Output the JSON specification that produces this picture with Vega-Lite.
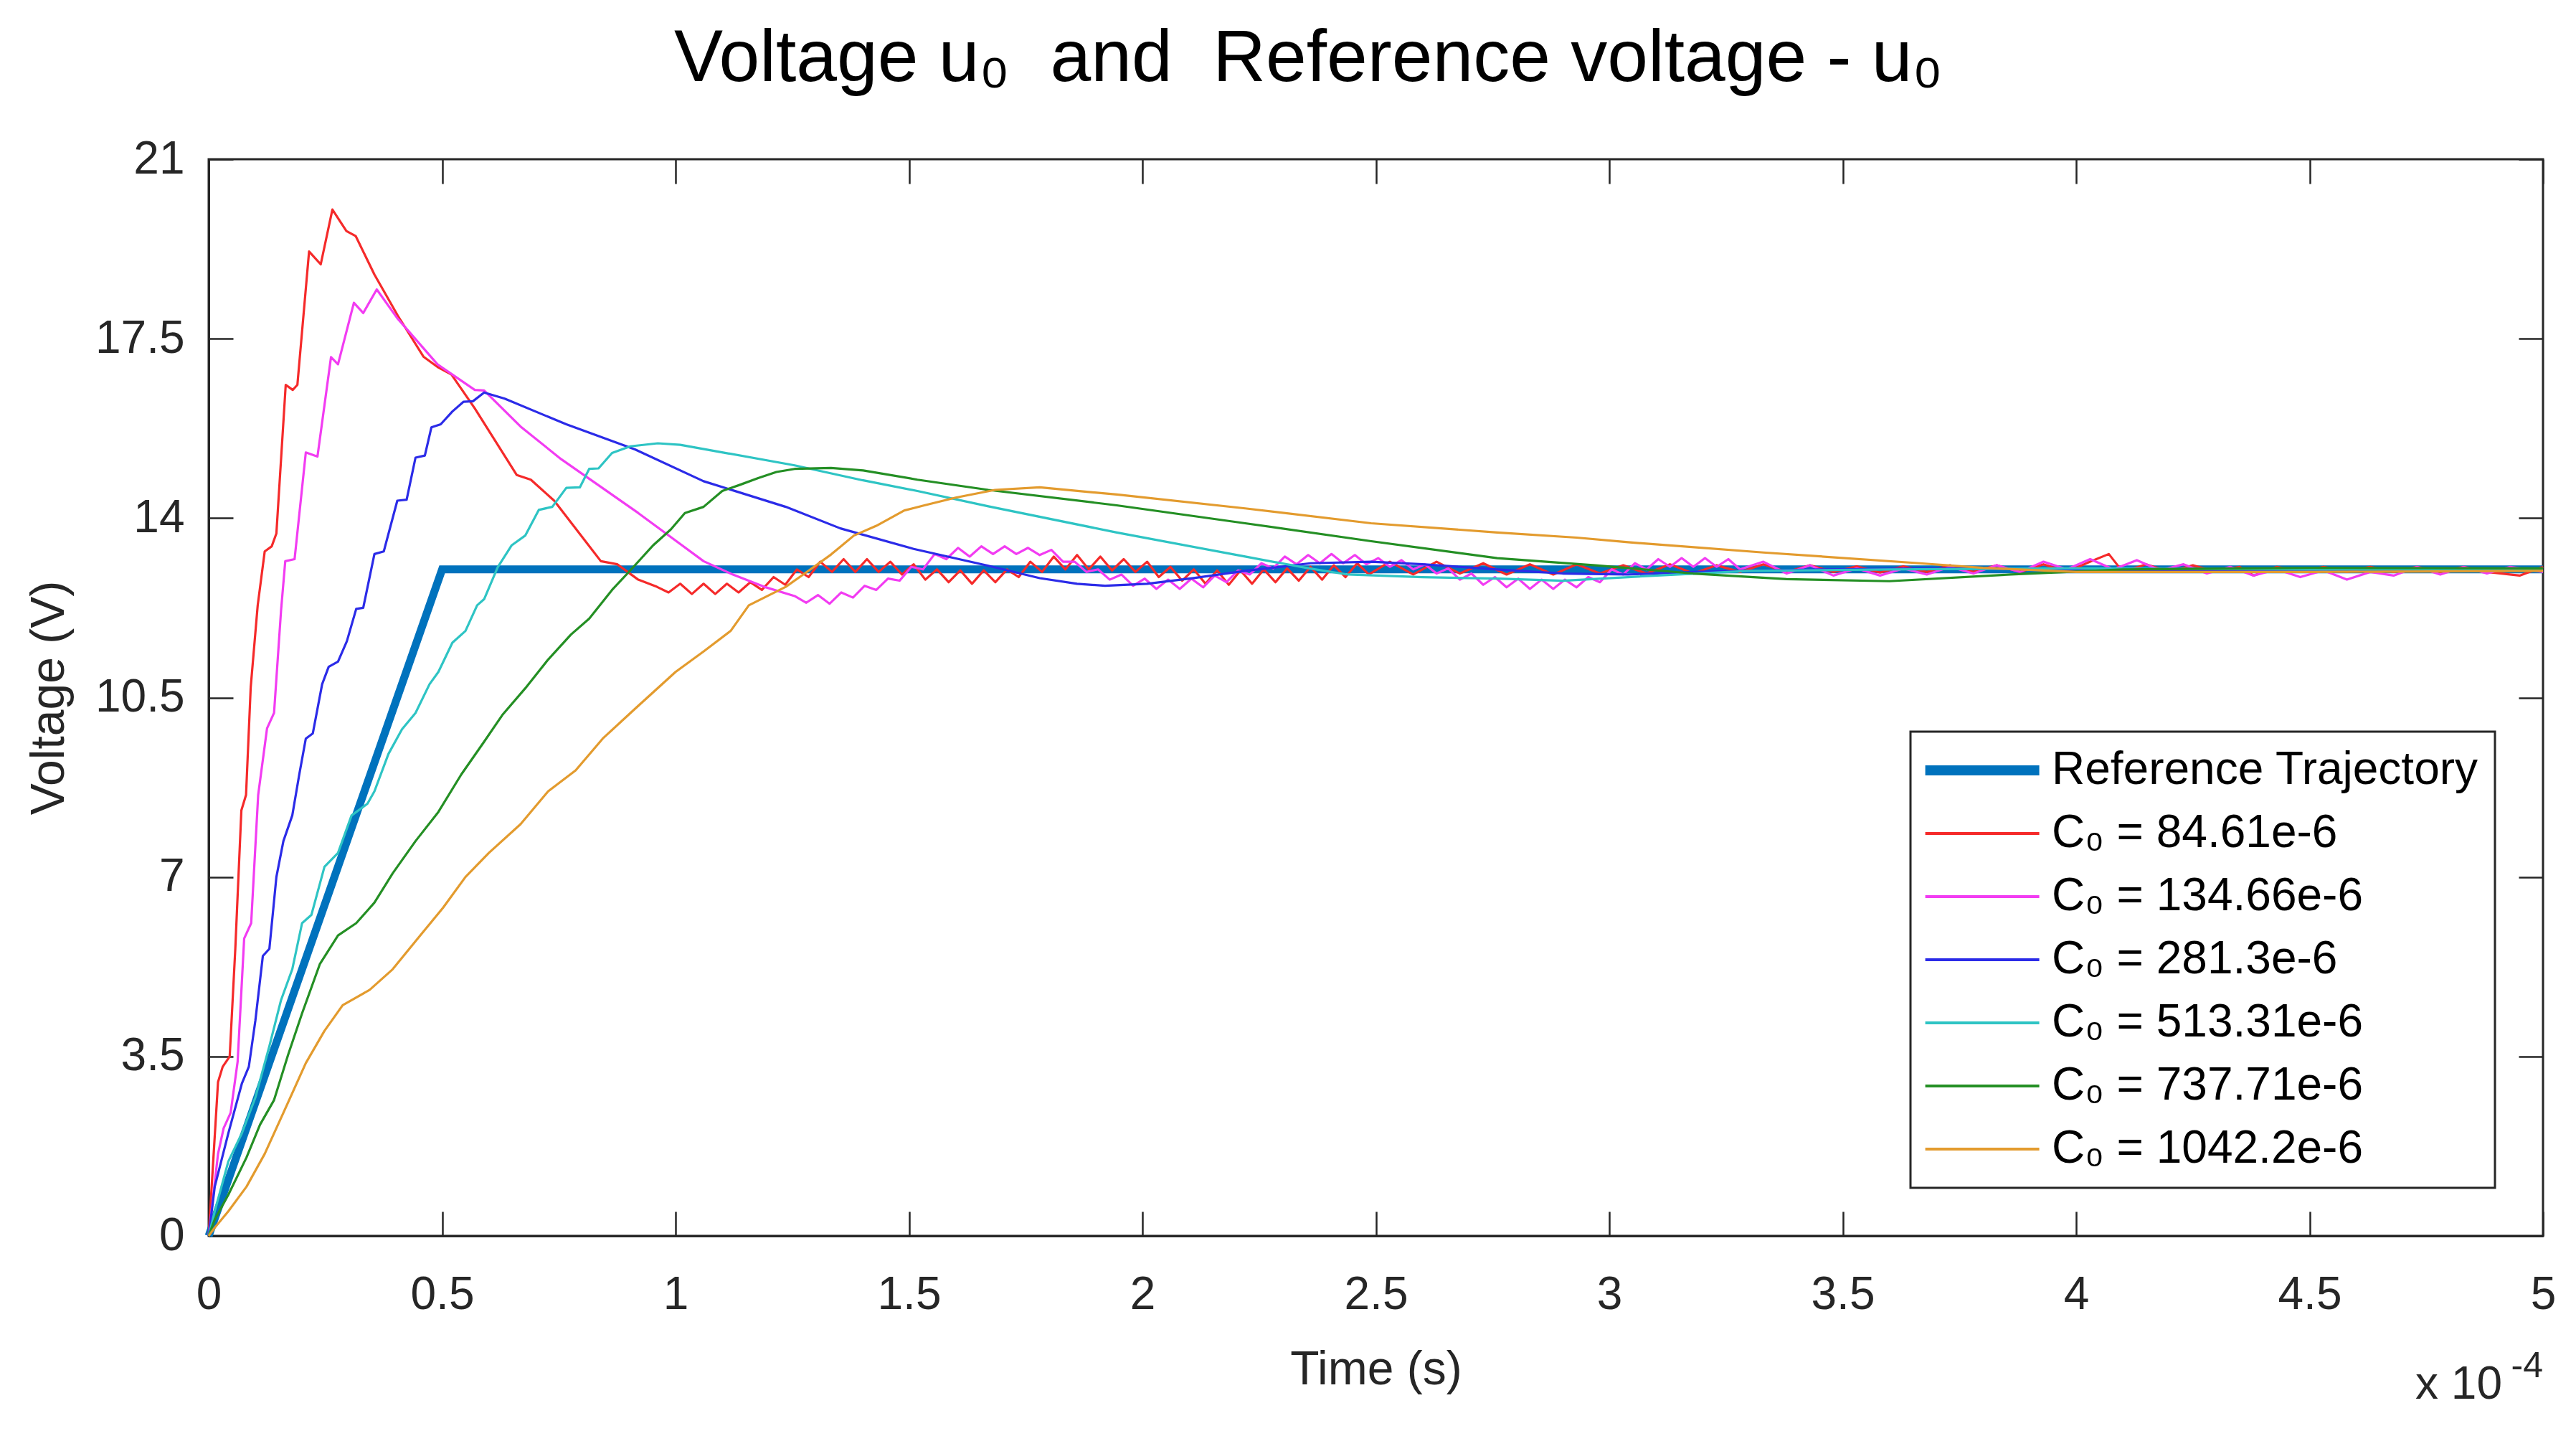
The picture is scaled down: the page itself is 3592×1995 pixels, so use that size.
{
  "$schema": "https://vega.github.io/schema/vega-lite/v6.json",
  "width": 3255,
  "height": 1501,
  "autosize": {"type": "none"},
  "padding": {"left": 291, "top": 222, "right": 46, "bottom": 272},
  "background": "white",
  "config": {
    "font": "Liberation Sans",
    "view": {"stroke": "#262626", "strokeWidth": 3},
    "axis": {
      "grid": false,
      "domainColor": "#262626",
      "domainWidth": 3,
      "tickColor": "#262626",
      "tickWidth": 2.5,
      "tickSize": -34,
      "labelFontSize": 64,
      "labelColor": "#262626",
      "labelFlush": false,
      "titleFontSize": 66,
      "titleFontWeight": "normal",
      "titleColor": "#262626"
    },
    "legend": {
      "orient": "bottom-right",
      "offset": 67,
      "strokeColor": "#262626",
      "strokeWidth": 3,
      "fillColor": "white",
      "padding": 22,
      "labelFontSize": 64,
      "labelColor": "#000000",
      "labelLimit": 0,
      "labelOffset": 111,
      "symbolType": "M-2.1,0H7.9",
      "symbolSize": 1011,
      "rowPadding": 24
    }
  },
  "title": {
    "text": "Voltage u₀\u00a0\u00a0and\u00a0\u00a0Reference voltage - u₀",
    "fontSize": 102,
    "fontWeight": "normal",
    "color": "#000000",
    "anchor": "middle",
    "baseline": "alphabetic",
    "offset": -25,
    "dx": -94
  },
  "datasets": {
    "curves": [
      {"series": "Reference Trajectory", "t": 0, "v": 0},
      {"series": "Reference Trajectory", "t": 0.5, "v": 13},
      {"series": "Reference Trajectory", "t": 5, "v": 13},

      {"series": "C₀ = 84.61e-6", "t": 0, "v": 0},
      {"series": "C₀ = 84.61e-6", "t": 0.01, "v": 1.5},
      {"series": "C₀ = 84.61e-6", "t": 0.02, "v": 3.0},
      {"series": "C₀ = 84.61e-6", "t": 0.03, "v": 3.3},
      {"series": "C₀ = 84.61e-6", "t": 0.045, "v": 3.5},
      {"series": "C₀ = 84.61e-6", "t": 0.057, "v": 5.6},
      {"series": "C₀ = 84.61e-6", "t": 0.07, "v": 8.3},
      {"series": "C₀ = 84.61e-6", "t": 0.08, "v": 8.6},
      {"series": "C₀ = 84.61e-6", "t": 0.09, "v": 10.7},
      {"series": "C₀ = 84.61e-6", "t": 0.105, "v": 12.3},
      {"series": "C₀ = 84.61e-6", "t": 0.12, "v": 13.35},
      {"series": "C₀ = 84.61e-6", "t": 0.135, "v": 13.45},
      {"series": "C₀ = 84.61e-6", "t": 0.145, "v": 13.7},
      {"series": "C₀ = 84.61e-6", "t": 0.165, "v": 16.6},
      {"series": "C₀ = 84.61e-6", "t": 0.18, "v": 16.5},
      {"series": "C₀ = 84.61e-6", "t": 0.19, "v": 16.6},
      {"series": "C₀ = 84.61e-6", "t": 0.215, "v": 19.2},
      {"series": "C₀ = 84.61e-6", "t": 0.24, "v": 18.95},
      {"series": "C₀ = 84.61e-6", "t": 0.265, "v": 20.02},
      {"series": "C₀ = 84.61e-6", "t": 0.295, "v": 19.6},
      {"series": "C₀ = 84.61e-6", "t": 0.315, "v": 19.5},
      {"series": "C₀ = 84.61e-6", "t": 0.355, "v": 18.75},
      {"series": "C₀ = 84.61e-6", "t": 0.405, "v": 17.95},
      {"series": "C₀ = 84.61e-6", "t": 0.46, "v": 17.15},
      {"series": "C₀ = 84.61e-6", "t": 0.49, "v": 16.95},
      {"series": "C₀ = 84.61e-6", "t": 0.52, "v": 16.8},
      {"series": "C₀ = 84.61e-6", "t": 0.57, "v": 16.14},
      {"series": "C₀ = 84.61e-6", "t": 0.66, "v": 14.84},
      {"series": "C₀ = 84.61e-6", "t": 0.69, "v": 14.75},
      {"series": "C₀ = 84.61e-6", "t": 0.74, "v": 14.34},
      {"series": "C₀ = 84.61e-6", "t": 0.84, "v": 13.16},
      {"series": "C₀ = 84.61e-6", "t": 0.875, "v": 13.1},
      {"series": "C₀ = 84.61e-6", "t": 0.92, "v": 12.8},
      {"series": "C₀ = 84.61e-6", "t": 0.96, "v": 12.66},
      {"series": "C₀ = 84.61e-6", "t": 0.985, "v": 12.55},
      {"series": "C₀ = 84.61e-6", "t": 1.01, "v": 12.72},
      {"series": "C₀ = 84.61e-6", "t": 1.035, "v": 12.52},
      {"series": "C₀ = 84.61e-6", "t": 1.06, "v": 12.72},
      {"series": "C₀ = 84.61e-6", "t": 1.085, "v": 12.52},
      {"series": "C₀ = 84.61e-6", "t": 1.11, "v": 12.72},
      {"series": "C₀ = 84.61e-6", "t": 1.135, "v": 12.55},
      {"series": "C₀ = 84.61e-6", "t": 1.16, "v": 12.75},
      {"series": "C₀ = 84.61e-6", "t": 1.185, "v": 12.6},
      {"series": "C₀ = 84.61e-6", "t": 1.21, "v": 12.85},
      {"series": "C₀ = 84.61e-6", "t": 1.235, "v": 12.7},
      {"series": "C₀ = 84.61e-6", "t": 1.26, "v": 13.0},
      {"series": "C₀ = 84.61e-6", "t": 1.285, "v": 12.85},
      {"series": "C₀ = 84.61e-6", "t": 1.31, "v": 13.15},
      {"series": "C₀ = 84.61e-6", "t": 1.335, "v": 12.95},
      {"series": "C₀ = 84.61e-6", "t": 1.36, "v": 13.2},
      {"series": "C₀ = 84.61e-6", "t": 1.385, "v": 12.95},
      {"series": "C₀ = 84.61e-6", "t": 1.41, "v": 13.2},
      {"series": "C₀ = 84.61e-6", "t": 1.435, "v": 12.95},
      {"series": "C₀ = 84.61e-6", "t": 1.46, "v": 13.15},
      {"series": "C₀ = 84.61e-6", "t": 1.485, "v": 12.9},
      {"series": "C₀ = 84.61e-6", "t": 1.51, "v": 13.1},
      {"series": "C₀ = 84.61e-6", "t": 1.535, "v": 12.8},
      {"series": "C₀ = 84.61e-6", "t": 1.56, "v": 13.0},
      {"series": "C₀ = 84.61e-6", "t": 1.585, "v": 12.75},
      {"series": "C₀ = 84.61e-6", "t": 1.61, "v": 12.98},
      {"series": "C₀ = 84.61e-6", "t": 1.635, "v": 12.72},
      {"series": "C₀ = 84.61e-6", "t": 1.66, "v": 12.98},
      {"series": "C₀ = 84.61e-6", "t": 1.685, "v": 12.75},
      {"series": "C₀ = 84.61e-6", "t": 1.71, "v": 13.0},
      {"series": "C₀ = 84.61e-6", "t": 1.735, "v": 12.85},
      {"series": "C₀ = 84.61e-6", "t": 1.76, "v": 13.15},
      {"series": "C₀ = 84.61e-6", "t": 1.785, "v": 12.95},
      {"series": "C₀ = 84.61e-6", "t": 1.81, "v": 13.25},
      {"series": "C₀ = 84.61e-6", "t": 1.835, "v": 13.0},
      {"series": "C₀ = 84.61e-6", "t": 1.86, "v": 13.28},
      {"series": "C₀ = 84.61e-6", "t": 1.885, "v": 13.0},
      {"series": "C₀ = 84.61e-6", "t": 1.91, "v": 13.25},
      {"series": "C₀ = 84.61e-6", "t": 1.935, "v": 12.98},
      {"series": "C₀ = 84.61e-6", "t": 1.96, "v": 13.2},
      {"series": "C₀ = 84.61e-6", "t": 1.985, "v": 12.95},
      {"series": "C₀ = 84.61e-6", "t": 2.01, "v": 13.15},
      {"series": "C₀ = 84.61e-6", "t": 2.035, "v": 12.85},
      {"series": "C₀ = 84.61e-6", "t": 2.06, "v": 13.05},
      {"series": "C₀ = 84.61e-6", "t": 2.085, "v": 12.78},
      {"series": "C₀ = 84.61e-6", "t": 2.11, "v": 13.0},
      {"series": "C₀ = 84.61e-6", "t": 2.135, "v": 12.72},
      {"series": "C₀ = 84.61e-6", "t": 2.16, "v": 12.98},
      {"series": "C₀ = 84.61e-6", "t": 2.185, "v": 12.7},
      {"series": "C₀ = 84.61e-6", "t": 2.21, "v": 12.98},
      {"series": "C₀ = 84.61e-6", "t": 2.235, "v": 12.72},
      {"series": "C₀ = 84.61e-6", "t": 2.26, "v": 13.0},
      {"series": "C₀ = 84.61e-6", "t": 2.285, "v": 12.75},
      {"series": "C₀ = 84.61e-6", "t": 2.31, "v": 13.02},
      {"series": "C₀ = 84.61e-6", "t": 2.335, "v": 12.78},
      {"series": "C₀ = 84.61e-6", "t": 2.36, "v": 13.05},
      {"series": "C₀ = 84.61e-6", "t": 2.385, "v": 12.8},
      {"series": "C₀ = 84.61e-6", "t": 2.41, "v": 13.08},
      {"series": "C₀ = 84.61e-6", "t": 2.435, "v": 12.85},
      {"series": "C₀ = 84.61e-6", "t": 2.46, "v": 13.12},
      {"series": "C₀ = 84.61e-6", "t": 2.485, "v": 12.9},
      {"series": "C₀ = 84.61e-6", "t": 2.53, "v": 13.15},
      {"series": "C₀ = 84.61e-6", "t": 2.58, "v": 12.9},
      {"series": "C₀ = 84.61e-6", "t": 2.63, "v": 13.15},
      {"series": "C₀ = 84.61e-6", "t": 2.68, "v": 12.92},
      {"series": "C₀ = 84.61e-6", "t": 2.73, "v": 13.12},
      {"series": "C₀ = 84.61e-6", "t": 2.78, "v": 12.9},
      {"series": "C₀ = 84.61e-6", "t": 2.83, "v": 13.1},
      {"series": "C₀ = 84.61e-6", "t": 2.88, "v": 12.9},
      {"series": "C₀ = 84.61e-6", "t": 2.93, "v": 13.1},
      {"series": "C₀ = 84.61e-6", "t": 2.98, "v": 12.92},
      {"series": "C₀ = 84.61e-6", "t": 3.03, "v": 13.08},
      {"series": "C₀ = 84.61e-6", "t": 3.08, "v": 12.92},
      {"series": "C₀ = 84.61e-6", "t": 3.13, "v": 13.1},
      {"series": "C₀ = 84.61e-6", "t": 3.18, "v": 12.92},
      {"series": "C₀ = 84.61e-6", "t": 3.23, "v": 13.08},
      {"series": "C₀ = 84.61e-6", "t": 3.28, "v": 12.95},
      {"series": "C₀ = 84.61e-6", "t": 3.33, "v": 13.1},
      {"series": "C₀ = 84.61e-6", "t": 3.38, "v": 12.95},
      {"series": "C₀ = 84.61e-6", "t": 3.43, "v": 13.08},
      {"series": "C₀ = 84.61e-6", "t": 3.48, "v": 12.95},
      {"series": "C₀ = 84.61e-6", "t": 3.53, "v": 13.06},
      {"series": "C₀ = 84.61e-6", "t": 3.58, "v": 12.94},
      {"series": "C₀ = 84.61e-6", "t": 3.63, "v": 13.06},
      {"series": "C₀ = 84.61e-6", "t": 3.68, "v": 12.95},
      {"series": "C₀ = 84.61e-6", "t": 3.73, "v": 13.08},
      {"series": "C₀ = 84.61e-6", "t": 3.78, "v": 12.95},
      {"series": "C₀ = 84.61e-6", "t": 3.83, "v": 13.08},
      {"series": "C₀ = 84.61e-6", "t": 3.88, "v": 12.95},
      {"series": "C₀ = 84.61e-6", "t": 3.93, "v": 13.1},
      {"series": "C₀ = 84.61e-6", "t": 3.98, "v": 12.95},
      {"series": "C₀ = 84.61e-6", "t": 4.03, "v": 13.15},
      {"series": "C₀ = 84.61e-6", "t": 4.07, "v": 13.3},
      {"series": "C₀ = 84.61e-6", "t": 4.1, "v": 12.95},
      {"series": "C₀ = 84.61e-6", "t": 4.15, "v": 13.1},
      {"series": "C₀ = 84.61e-6", "t": 4.2, "v": 12.95},
      {"series": "C₀ = 84.61e-6", "t": 4.25, "v": 13.08},
      {"series": "C₀ = 84.61e-6", "t": 4.3, "v": 12.95},
      {"series": "C₀ = 84.61e-6", "t": 4.35, "v": 13.05},
      {"series": "C₀ = 84.61e-6", "t": 4.38, "v": 12.88},
      {"series": "C₀ = 84.61e-6", "t": 4.43, "v": 13.05},
      {"series": "C₀ = 84.61e-6", "t": 4.48, "v": 12.95},
      {"series": "C₀ = 84.61e-6", "t": 4.53, "v": 13.05},
      {"series": "C₀ = 84.61e-6", "t": 4.58, "v": 12.95},
      {"series": "C₀ = 84.61e-6", "t": 4.63, "v": 13.05},
      {"series": "C₀ = 84.61e-6", "t": 4.68, "v": 12.95},
      {"series": "C₀ = 84.61e-6", "t": 4.73, "v": 13.05},
      {"series": "C₀ = 84.61e-6", "t": 4.78, "v": 12.95},
      {"series": "C₀ = 84.61e-6", "t": 4.83, "v": 13.05},
      {"series": "C₀ = 84.61e-6", "t": 4.88, "v": 12.95},
      {"series": "C₀ = 84.61e-6", "t": 4.95, "v": 12.88},
      {"series": "C₀ = 84.61e-6", "t": 5.0, "v": 13.05},

      {"series": "C₀ = 134.66e-6", "t": 0, "v": 0},
      {"series": "C₀ = 134.66e-6", "t": 0.008, "v": 0.64},
      {"series": "C₀ = 134.66e-6", "t": 0.02, "v": 1.6},
      {"series": "C₀ = 134.66e-6", "t": 0.032, "v": 2.1},
      {"series": "C₀ = 134.66e-6", "t": 0.047, "v": 2.4},
      {"series": "C₀ = 134.66e-6", "t": 0.062, "v": 3.4},
      {"series": "C₀ = 134.66e-6", "t": 0.076, "v": 5.8},
      {"series": "C₀ = 134.66e-6", "t": 0.091, "v": 6.1},
      {"series": "C₀ = 134.66e-6", "t": 0.106, "v": 8.6},
      {"series": "C₀ = 134.66e-6", "t": 0.125, "v": 9.9},
      {"series": "C₀ = 134.66e-6", "t": 0.14, "v": 10.2},
      {"series": "C₀ = 134.66e-6", "t": 0.155, "v": 12.2},
      {"series": "C₀ = 134.66e-6", "t": 0.164, "v": 13.16},
      {"series": "C₀ = 134.66e-6", "t": 0.184, "v": 13.2},
      {"series": "C₀ = 134.66e-6", "t": 0.208, "v": 15.28},
      {"series": "C₀ = 134.66e-6", "t": 0.233, "v": 15.2},
      {"series": "C₀ = 134.66e-6", "t": 0.262, "v": 17.14},
      {"series": "C₀ = 134.66e-6", "t": 0.277, "v": 17.0},
      {"series": "C₀ = 134.66e-6", "t": 0.311, "v": 18.2},
      {"series": "C₀ = 134.66e-6", "t": 0.331, "v": 18.0},
      {"series": "C₀ = 134.66e-6", "t": 0.36, "v": 18.46},
      {"series": "C₀ = 134.66e-6", "t": 0.404, "v": 17.9},
      {"series": "C₀ = 134.66e-6", "t": 0.49, "v": 17.0},
      {"series": "C₀ = 134.66e-6", "t": 0.57, "v": 16.5},
      {"series": "C₀ = 134.66e-6", "t": 0.59, "v": 16.49},
      {"series": "C₀ = 134.66e-6", "t": 0.67, "v": 15.77},
      {"series": "C₀ = 134.66e-6", "t": 0.755, "v": 15.15},
      {"series": "C₀ = 134.66e-6", "t": 0.92, "v": 14.1},
      {"series": "C₀ = 134.66e-6", "t": 1.06, "v": 13.16},
      {"series": "C₀ = 134.66e-6", "t": 1.12, "v": 12.91},
      {"series": "C₀ = 134.66e-6", "t": 1.19, "v": 12.66},
      {"series": "C₀ = 134.66e-6", "t": 1.255, "v": 12.48},
      {"series": "C₀ = 134.66e-6", "t": 1.28, "v": 12.35},
      {"series": "C₀ = 134.66e-6", "t": 1.305, "v": 12.5},
      {"series": "C₀ = 134.66e-6", "t": 1.33, "v": 12.33},
      {"series": "C₀ = 134.66e-6", "t": 1.355, "v": 12.55},
      {"series": "C₀ = 134.66e-6", "t": 1.38, "v": 12.45},
      {"series": "C₀ = 134.66e-6", "t": 1.405, "v": 12.68},
      {"series": "C₀ = 134.66e-6", "t": 1.43, "v": 12.6},
      {"series": "C₀ = 134.66e-6", "t": 1.455, "v": 12.82},
      {"series": "C₀ = 134.66e-6", "t": 1.48, "v": 12.78},
      {"series": "C₀ = 134.66e-6", "t": 1.505, "v": 13.05},
      {"series": "C₀ = 134.66e-6", "t": 1.53, "v": 13.0},
      {"series": "C₀ = 134.66e-6", "t": 1.555, "v": 13.3},
      {"series": "C₀ = 134.66e-6", "t": 1.58, "v": 13.2},
      {"series": "C₀ = 134.66e-6", "t": 1.605, "v": 13.42},
      {"series": "C₀ = 134.66e-6", "t": 1.63, "v": 13.25},
      {"series": "C₀ = 134.66e-6", "t": 1.655, "v": 13.45},
      {"series": "C₀ = 134.66e-6", "t": 1.68, "v": 13.3},
      {"series": "C₀ = 134.66e-6", "t": 1.705, "v": 13.45},
      {"series": "C₀ = 134.66e-6", "t": 1.73, "v": 13.3},
      {"series": "C₀ = 134.66e-6", "t": 1.755, "v": 13.42},
      {"series": "C₀ = 134.66e-6", "t": 1.78, "v": 13.28},
      {"series": "C₀ = 134.66e-6", "t": 1.805, "v": 13.38},
      {"series": "C₀ = 134.66e-6", "t": 1.83, "v": 13.15},
      {"series": "C₀ = 134.66e-6", "t": 1.855, "v": 13.15},
      {"series": "C₀ = 134.66e-6", "t": 1.88, "v": 12.95},
      {"series": "C₀ = 134.66e-6", "t": 1.905, "v": 13.0},
      {"series": "C₀ = 134.66e-6", "t": 1.93, "v": 12.8},
      {"series": "C₀ = 134.66e-6", "t": 1.955, "v": 12.9},
      {"series": "C₀ = 134.66e-6", "t": 1.98, "v": 12.68},
      {"series": "C₀ = 134.66e-6", "t": 2.005, "v": 12.82},
      {"series": "C₀ = 134.66e-6", "t": 2.03, "v": 12.62},
      {"series": "C₀ = 134.66e-6", "t": 2.055, "v": 12.8},
      {"series": "C₀ = 134.66e-6", "t": 2.08, "v": 12.62},
      {"series": "C₀ = 134.66e-6", "t": 2.105, "v": 12.82},
      {"series": "C₀ = 134.66e-6", "t": 2.13, "v": 12.65},
      {"series": "C₀ = 134.66e-6", "t": 2.155, "v": 12.88},
      {"series": "C₀ = 134.66e-6", "t": 2.18, "v": 12.75},
      {"series": "C₀ = 134.66e-6", "t": 2.205, "v": 12.98},
      {"series": "C₀ = 134.66e-6", "t": 2.23, "v": 12.9},
      {"series": "C₀ = 134.66e-6", "t": 2.255, "v": 13.12},
      {"series": "C₀ = 134.66e-6", "t": 2.28, "v": 13.02},
      {"series": "C₀ = 134.66e-6", "t": 2.305, "v": 13.25},
      {"series": "C₀ = 134.66e-6", "t": 2.33, "v": 13.1},
      {"series": "C₀ = 134.66e-6", "t": 2.355, "v": 13.28},
      {"series": "C₀ = 134.66e-6", "t": 2.38, "v": 13.12},
      {"series": "C₀ = 134.66e-6", "t": 2.405, "v": 13.3},
      {"series": "C₀ = 134.66e-6", "t": 2.43, "v": 13.12},
      {"series": "C₀ = 134.66e-6", "t": 2.455, "v": 13.28},
      {"series": "C₀ = 134.66e-6", "t": 2.48, "v": 13.1},
      {"series": "C₀ = 134.66e-6", "t": 2.505, "v": 13.22},
      {"series": "C₀ = 134.66e-6", "t": 2.53, "v": 13.05},
      {"series": "C₀ = 134.66e-6", "t": 2.555, "v": 13.18},
      {"series": "C₀ = 134.66e-6", "t": 2.58, "v": 13.0},
      {"series": "C₀ = 134.66e-6", "t": 2.605, "v": 13.1},
      {"series": "C₀ = 134.66e-6", "t": 2.63, "v": 12.92},
      {"series": "C₀ = 134.66e-6", "t": 2.655, "v": 13.02},
      {"series": "C₀ = 134.66e-6", "t": 2.68, "v": 12.8},
      {"series": "C₀ = 134.66e-6", "t": 2.705, "v": 12.92},
      {"series": "C₀ = 134.66e-6", "t": 2.73, "v": 12.7},
      {"series": "C₀ = 134.66e-6", "t": 2.755, "v": 12.85},
      {"series": "C₀ = 134.66e-6", "t": 2.78, "v": 12.65},
      {"series": "C₀ = 134.66e-6", "t": 2.805, "v": 12.82},
      {"series": "C₀ = 134.66e-6", "t": 2.83, "v": 12.62},
      {"series": "C₀ = 134.66e-6", "t": 2.855, "v": 12.8},
      {"series": "C₀ = 134.66e-6", "t": 2.88, "v": 12.62},
      {"series": "C₀ = 134.66e-6", "t": 2.905, "v": 12.8},
      {"series": "C₀ = 134.66e-6", "t": 2.93, "v": 12.65},
      {"series": "C₀ = 134.66e-6", "t": 2.955, "v": 12.85},
      {"series": "C₀ = 134.66e-6", "t": 2.98, "v": 12.75},
      {"series": "C₀ = 134.66e-6", "t": 3.005, "v": 13.0},
      {"series": "C₀ = 134.66e-6", "t": 3.03, "v": 12.9},
      {"series": "C₀ = 134.66e-6", "t": 3.055, "v": 13.12},
      {"series": "C₀ = 134.66e-6", "t": 3.08, "v": 13.0},
      {"series": "C₀ = 134.66e-6", "t": 3.105, "v": 13.2},
      {"series": "C₀ = 134.66e-6", "t": 3.13, "v": 13.05},
      {"series": "C₀ = 134.66e-6", "t": 3.155, "v": 13.22},
      {"series": "C₀ = 134.66e-6", "t": 3.18, "v": 13.05},
      {"series": "C₀ = 134.66e-6", "t": 3.205, "v": 13.22},
      {"series": "C₀ = 134.66e-6", "t": 3.23, "v": 13.05},
      {"series": "C₀ = 134.66e-6", "t": 3.255, "v": 13.2},
      {"series": "C₀ = 134.66e-6", "t": 3.28, "v": 13.0},
      {"series": "C₀ = 134.66e-6", "t": 3.33, "v": 13.15},
      {"series": "C₀ = 134.66e-6", "t": 3.38, "v": 12.92},
      {"series": "C₀ = 134.66e-6", "t": 3.43, "v": 13.08},
      {"series": "C₀ = 134.66e-6", "t": 3.48, "v": 12.88},
      {"series": "C₀ = 134.66e-6", "t": 3.53, "v": 13.02},
      {"series": "C₀ = 134.66e-6", "t": 3.58, "v": 12.88},
      {"series": "C₀ = 134.66e-6", "t": 3.63, "v": 13.02},
      {"series": "C₀ = 134.66e-6", "t": 3.68, "v": 12.9},
      {"series": "C₀ = 134.66e-6", "t": 3.73, "v": 13.05},
      {"series": "C₀ = 134.66e-6", "t": 3.78, "v": 12.92},
      {"series": "C₀ = 134.66e-6", "t": 3.83, "v": 13.08},
      {"series": "C₀ = 134.66e-6", "t": 3.88, "v": 12.95},
      {"series": "C₀ = 134.66e-6", "t": 3.93, "v": 13.15},
      {"series": "C₀ = 134.66e-6", "t": 3.98, "v": 13.0},
      {"series": "C₀ = 134.66e-6", "t": 4.03, "v": 13.2},
      {"series": "C₀ = 134.66e-6", "t": 4.08, "v": 13.0},
      {"series": "C₀ = 134.66e-6", "t": 4.13, "v": 13.18},
      {"series": "C₀ = 134.66e-6", "t": 4.18, "v": 12.98},
      {"series": "C₀ = 134.66e-6", "t": 4.23, "v": 13.1},
      {"series": "C₀ = 134.66e-6", "t": 4.28, "v": 12.92},
      {"series": "C₀ = 134.66e-6", "t": 4.33, "v": 13.05},
      {"series": "C₀ = 134.66e-6", "t": 4.38, "v": 12.88},
      {"series": "C₀ = 134.66e-6", "t": 4.43, "v": 13.0},
      {"series": "C₀ = 134.66e-6", "t": 4.48, "v": 12.85},
      {"series": "C₀ = 134.66e-6", "t": 4.53, "v": 12.98},
      {"series": "C₀ = 134.66e-6", "t": 4.58, "v": 12.8},
      {"series": "C₀ = 134.66e-6", "t": 4.63, "v": 12.95},
      {"series": "C₀ = 134.66e-6", "t": 4.68, "v": 12.88},
      {"series": "C₀ = 134.66e-6", "t": 4.73, "v": 13.05},
      {"series": "C₀ = 134.66e-6", "t": 4.78, "v": 12.9},
      {"series": "C₀ = 134.66e-6", "t": 4.83, "v": 13.05},
      {"series": "C₀ = 134.66e-6", "t": 4.88, "v": 12.92},
      {"series": "C₀ = 134.66e-6", "t": 4.93, "v": 13.05},
      {"series": "C₀ = 134.66e-6", "t": 5.0, "v": 12.95},

      {"series": "C₀ = 281.3e-6", "t": 0, "v": 0},
      {"series": "C₀ = 281.3e-6", "t": 0.013, "v": 0.96},
      {"series": "C₀ = 281.3e-6", "t": 0.042, "v": 2.0},
      {"series": "C₀ = 281.3e-6", "t": 0.071, "v": 2.97},
      {"series": "C₀ = 281.3e-6", "t": 0.086, "v": 3.3},
      {"series": "C₀ = 281.3e-6", "t": 0.1, "v": 4.2},
      {"series": "C₀ = 281.3e-6", "t": 0.116, "v": 5.46},
      {"series": "C₀ = 281.3e-6", "t": 0.13, "v": 5.6},
      {"series": "C₀ = 281.3e-6", "t": 0.145, "v": 7.0},
      {"series": "C₀ = 281.3e-6", "t": 0.16, "v": 7.7},
      {"series": "C₀ = 281.3e-6", "t": 0.179, "v": 8.2},
      {"series": "C₀ = 281.3e-6", "t": 0.194, "v": 9.0},
      {"series": "C₀ = 281.3e-6", "t": 0.208, "v": 9.7},
      {"series": "C₀ = 281.3e-6", "t": 0.223, "v": 9.8},
      {"series": "C₀ = 281.3e-6", "t": 0.243, "v": 10.76},
      {"series": "C₀ = 281.3e-6", "t": 0.257, "v": 11.1},
      {"series": "C₀ = 281.3e-6", "t": 0.277, "v": 11.2},
      {"series": "C₀ = 281.3e-6", "t": 0.296, "v": 11.6},
      {"series": "C₀ = 281.3e-6", "t": 0.316, "v": 12.23},
      {"series": "C₀ = 281.3e-6", "t": 0.331, "v": 12.25},
      {"series": "C₀ = 281.3e-6", "t": 0.355, "v": 13.3},
      {"series": "C₀ = 281.3e-6", "t": 0.375, "v": 13.35},
      {"series": "C₀ = 281.3e-6", "t": 0.404, "v": 14.34},
      {"series": "C₀ = 281.3e-6", "t": 0.424, "v": 14.36},
      {"series": "C₀ = 281.3e-6", "t": 0.443, "v": 15.18},
      {"series": "C₀ = 281.3e-6", "t": 0.463, "v": 15.22},
      {"series": "C₀ = 281.3e-6", "t": 0.477, "v": 15.77},
      {"series": "C₀ = 281.3e-6", "t": 0.497, "v": 15.83},
      {"series": "C₀ = 281.3e-6", "t": 0.522, "v": 16.08},
      {"series": "C₀ = 281.3e-6", "t": 0.546, "v": 16.27},
      {"series": "C₀ = 281.3e-6", "t": 0.566, "v": 16.28},
      {"series": "C₀ = 281.3e-6", "t": 0.59, "v": 16.45},
      {"series": "C₀ = 281.3e-6", "t": 0.634, "v": 16.33},
      {"series": "C₀ = 281.3e-6", "t": 0.766, "v": 15.83},
      {"series": "C₀ = 281.3e-6", "t": 0.913, "v": 15.34},
      {"series": "C₀ = 281.3e-6", "t": 1.06, "v": 14.72},
      {"series": "C₀ = 281.3e-6", "t": 1.236, "v": 14.22},
      {"series": "C₀ = 281.3e-6", "t": 1.353, "v": 13.8},
      {"series": "C₀ = 281.3e-6", "t": 1.51, "v": 13.4},
      {"series": "C₀ = 281.3e-6", "t": 1.67, "v": 13.07},
      {"series": "C₀ = 281.3e-6", "t": 1.78, "v": 12.83},
      {"series": "C₀ = 281.3e-6", "t": 1.86, "v": 12.72},
      {"series": "C₀ = 281.3e-6", "t": 1.92, "v": 12.68},
      {"series": "C₀ = 281.3e-6", "t": 2.01, "v": 12.72},
      {"series": "C₀ = 281.3e-6", "t": 2.11, "v": 12.83},
      {"series": "C₀ = 281.3e-6", "t": 2.22, "v": 12.97},
      {"series": "C₀ = 281.3e-6", "t": 2.36, "v": 13.12},
      {"series": "C₀ = 281.3e-6", "t": 2.49, "v": 13.15},
      {"series": "C₀ = 281.3e-6", "t": 2.6, "v": 13.1},
      {"series": "C₀ = 281.3e-6", "t": 2.76, "v": 13.0},
      {"series": "C₀ = 281.3e-6", "t": 2.9, "v": 12.92},
      {"series": "C₀ = 281.3e-6", "t": 3.04, "v": 12.9},
      {"series": "C₀ = 281.3e-6", "t": 3.18, "v": 12.95},
      {"series": "C₀ = 281.3e-6", "t": 3.45, "v": 13.0},
      {"series": "C₀ = 281.3e-6", "t": 3.7, "v": 13.02},
      {"series": "C₀ = 281.3e-6", "t": 4.0, "v": 13.0},
      {"series": "C₀ = 281.3e-6", "t": 4.3, "v": 12.98},
      {"series": "C₀ = 281.3e-6", "t": 4.6, "v": 13.0},
      {"series": "C₀ = 281.3e-6", "t": 5.0, "v": 13.0},

      {"series": "C₀ = 513.31e-6", "t": 0, "v": 0},
      {"series": "C₀ = 513.31e-6", "t": 0.013, "v": 0.48},
      {"series": "C₀ = 513.31e-6", "t": 0.042, "v": 1.45},
      {"series": "C₀ = 513.31e-6", "t": 0.071, "v": 2.0},
      {"series": "C₀ = 513.31e-6", "t": 0.1, "v": 2.7},
      {"series": "C₀ = 513.31e-6", "t": 0.13, "v": 3.7},
      {"series": "C₀ = 513.31e-6", "t": 0.155, "v": 4.6},
      {"series": "C₀ = 513.31e-6", "t": 0.179, "v": 5.2},
      {"series": "C₀ = 513.31e-6", "t": 0.2, "v": 6.1},
      {"series": "C₀ = 513.31e-6", "t": 0.22, "v": 6.26},
      {"series": "C₀ = 513.31e-6", "t": 0.248, "v": 7.2},
      {"series": "C₀ = 513.31e-6", "t": 0.277, "v": 7.47},
      {"series": "C₀ = 513.31e-6", "t": 0.306, "v": 8.2},
      {"series": "C₀ = 513.31e-6", "t": 0.34, "v": 8.43},
      {"series": "C₀ = 513.31e-6", "t": 0.355, "v": 8.67},
      {"series": "C₀ = 513.31e-6", "t": 0.385, "v": 9.4},
      {"series": "C₀ = 513.31e-6", "t": 0.414, "v": 9.88},
      {"series": "C₀ = 513.31e-6", "t": 0.443, "v": 10.2},
      {"series": "C₀ = 513.31e-6", "t": 0.473, "v": 10.76},
      {"series": "C₀ = 513.31e-6", "t": 0.492, "v": 11.0},
      {"series": "C₀ = 513.31e-6", "t": 0.522, "v": 11.57},
      {"series": "C₀ = 513.31e-6", "t": 0.55, "v": 11.8},
      {"series": "C₀ = 513.31e-6", "t": 0.575, "v": 12.3},
      {"series": "C₀ = 513.31e-6", "t": 0.59, "v": 12.42},
      {"series": "C₀ = 513.31e-6", "t": 0.619, "v": 13.04},
      {"series": "C₀ = 513.31e-6", "t": 0.649, "v": 13.47},
      {"series": "C₀ = 513.31e-6", "t": 0.678, "v": 13.66},
      {"series": "C₀ = 513.31e-6", "t": 0.707, "v": 14.16},
      {"series": "C₀ = 513.31e-6", "t": 0.736, "v": 14.22},
      {"series": "C₀ = 513.31e-6", "t": 0.766, "v": 14.59},
      {"series": "C₀ = 513.31e-6", "t": 0.795, "v": 14.6},
      {"series": "C₀ = 513.31e-6", "t": 0.815, "v": 14.96},
      {"series": "C₀ = 513.31e-6", "t": 0.835, "v": 14.97},
      {"series": "C₀ = 513.31e-6", "t": 0.864, "v": 15.27},
      {"series": "C₀ = 513.31e-6", "t": 0.903, "v": 15.4},
      {"series": "C₀ = 513.31e-6", "t": 0.962, "v": 15.46},
      {"series": "C₀ = 513.31e-6", "t": 1.01, "v": 15.43},
      {"series": "C₀ = 513.31e-6", "t": 1.108, "v": 15.27},
      {"series": "C₀ = 513.31e-6", "t": 1.255, "v": 15.03},
      {"series": "C₀ = 513.31e-6", "t": 1.4, "v": 14.74},
      {"series": "C₀ = 513.31e-6", "t": 1.518, "v": 14.53},
      {"series": "C₀ = 513.31e-6", "t": 1.67, "v": 14.23},
      {"series": "C₀ = 513.31e-6", "t": 1.945, "v": 13.72},
      {"series": "C₀ = 513.31e-6", "t": 2.22, "v": 13.25},
      {"series": "C₀ = 513.31e-6", "t": 2.357, "v": 13.02},
      {"series": "C₀ = 513.31e-6", "t": 2.44, "v": 12.9},
      {"series": "C₀ = 513.31e-6", "t": 2.6, "v": 12.85},
      {"series": "C₀ = 513.31e-6", "t": 2.76, "v": 12.82},
      {"series": "C₀ = 513.31e-6", "t": 2.9, "v": 12.78},
      {"series": "C₀ = 513.31e-6", "t": 3.04, "v": 12.85},
      {"series": "C₀ = 513.31e-6", "t": 3.3, "v": 12.97},
      {"series": "C₀ = 513.31e-6", "t": 3.6, "v": 13.0},
      {"series": "C₀ = 513.31e-6", "t": 4.0, "v": 13.02},
      {"series": "C₀ = 513.31e-6", "t": 4.5, "v": 13.0},
      {"series": "C₀ = 513.31e-6", "t": 5.0, "v": 13.0},

      {"series": "C₀ = 737.71e-6", "t": 0, "v": 0},
      {"series": "C₀ = 737.71e-6", "t": 0.013, "v": 0.32},
      {"series": "C₀ = 737.71e-6", "t": 0.042, "v": 0.8},
      {"series": "C₀ = 737.71e-6", "t": 0.081, "v": 1.53},
      {"series": "C₀ = 737.71e-6", "t": 0.11, "v": 2.17},
      {"series": "C₀ = 737.71e-6", "t": 0.14, "v": 2.65},
      {"series": "C₀ = 737.71e-6", "t": 0.17, "v": 3.53},
      {"series": "C₀ = 737.71e-6", "t": 0.2, "v": 4.34},
      {"series": "C₀ = 737.71e-6", "t": 0.238, "v": 5.3},
      {"series": "C₀ = 737.71e-6", "t": 0.277, "v": 5.86},
      {"series": "C₀ = 737.71e-6", "t": 0.316, "v": 6.1},
      {"series": "C₀ = 737.71e-6", "t": 0.355, "v": 6.5},
      {"series": "C₀ = 737.71e-6", "t": 0.394, "v": 7.07},
      {"series": "C₀ = 737.71e-6", "t": 0.443, "v": 7.7},
      {"series": "C₀ = 737.71e-6", "t": 0.492, "v": 8.27},
      {"series": "C₀ = 737.71e-6", "t": 0.541, "v": 9.0},
      {"series": "C₀ = 737.71e-6", "t": 0.59, "v": 9.64},
      {"series": "C₀ = 737.71e-6", "t": 0.629, "v": 10.16},
      {"series": "C₀ = 737.71e-6", "t": 0.678, "v": 10.68},
      {"series": "C₀ = 737.71e-6", "t": 0.727, "v": 11.24},
      {"series": "C₀ = 737.71e-6", "t": 0.776, "v": 11.73},
      {"series": "C₀ = 737.71e-6", "t": 0.815, "v": 12.04},
      {"series": "C₀ = 737.71e-6", "t": 0.864, "v": 12.6},
      {"series": "C₀ = 737.71e-6", "t": 0.903, "v": 12.98},
      {"series": "C₀ = 737.71e-6", "t": 0.952, "v": 13.47},
      {"series": "C₀ = 737.71e-6", "t": 0.99, "v": 13.78},
      {"series": "C₀ = 737.71e-6", "t": 1.02, "v": 14.1},
      {"series": "C₀ = 737.71e-6", "t": 1.06, "v": 14.22},
      {"series": "C₀ = 737.71e-6", "t": 1.1, "v": 14.53},
      {"series": "C₀ = 737.71e-6", "t": 1.138, "v": 14.65},
      {"series": "C₀ = 737.71e-6", "t": 1.177, "v": 14.78},
      {"series": "C₀ = 737.71e-6", "t": 1.216, "v": 14.9},
      {"series": "C₀ = 737.71e-6", "t": 1.255, "v": 14.96},
      {"series": "C₀ = 737.71e-6", "t": 1.333, "v": 14.98},
      {"series": "C₀ = 737.71e-6", "t": 1.402, "v": 14.93},
      {"series": "C₀ = 737.71e-6", "t": 1.518, "v": 14.75},
      {"series": "C₀ = 737.71e-6", "t": 1.67, "v": 14.55},
      {"series": "C₀ = 737.71e-6", "t": 1.945, "v": 14.25},
      {"series": "C₀ = 737.71e-6", "t": 2.22, "v": 13.9},
      {"series": "C₀ = 737.71e-6", "t": 2.49, "v": 13.55},
      {"series": "C₀ = 737.71e-6", "t": 2.76, "v": 13.22},
      {"series": "C₀ = 737.71e-6", "t": 2.97, "v": 13.08},
      {"series": "C₀ = 737.71e-6", "t": 3.18, "v": 12.92},
      {"series": "C₀ = 737.71e-6", "t": 3.38, "v": 12.81},
      {"series": "C₀ = 737.71e-6", "t": 3.6, "v": 12.77},
      {"series": "C₀ = 737.71e-6", "t": 3.86, "v": 12.9},
      {"series": "C₀ = 737.71e-6", "t": 4.1, "v": 13.0},
      {"series": "C₀ = 737.71e-6", "t": 4.5, "v": 13.03},
      {"series": "C₀ = 737.71e-6", "t": 5.0, "v": 13.02},

      {"series": "C₀ = 1042.2e-6", "t": 0, "v": 0},
      {"series": "C₀ = 1042.2e-6", "t": 0.013, "v": 0.16},
      {"series": "C₀ = 1042.2e-6", "t": 0.042, "v": 0.48},
      {"series": "C₀ = 1042.2e-6", "t": 0.081, "v": 0.96},
      {"series": "C₀ = 1042.2e-6", "t": 0.12, "v": 1.6},
      {"series": "C₀ = 1042.2e-6", "t": 0.16, "v": 2.4},
      {"series": "C₀ = 1042.2e-6", "t": 0.208, "v": 3.37},
      {"series": "C₀ = 1042.2e-6", "t": 0.248, "v": 4.0},
      {"series": "C₀ = 1042.2e-6", "t": 0.287, "v": 4.5},
      {"series": "C₀ = 1042.2e-6", "t": 0.345, "v": 4.8},
      {"series": "C₀ = 1042.2e-6", "t": 0.394, "v": 5.2},
      {"series": "C₀ = 1042.2e-6", "t": 0.453, "v": 5.86},
      {"series": "C₀ = 1042.2e-6", "t": 0.502, "v": 6.4},
      {"series": "C₀ = 1042.2e-6", "t": 0.55, "v": 7.0},
      {"series": "C₀ = 1042.2e-6", "t": 0.6, "v": 7.47},
      {"series": "C₀ = 1042.2e-6", "t": 0.668, "v": 8.03},
      {"series": "C₀ = 1042.2e-6", "t": 0.727, "v": 8.67},
      {"series": "C₀ = 1042.2e-6", "t": 0.786, "v": 9.08},
      {"series": "C₀ = 1042.2e-6", "t": 0.844, "v": 9.7},
      {"series": "C₀ = 1042.2e-6", "t": 0.913, "v": 10.28},
      {"series": "C₀ = 1042.2e-6", "t": 1.0, "v": 11.0},
      {"series": "C₀ = 1042.2e-6", "t": 1.06, "v": 11.4},
      {"series": "C₀ = 1042.2e-6", "t": 1.118, "v": 11.8},
      {"series": "C₀ = 1042.2e-6", "t": 1.157, "v": 12.3},
      {"series": "C₀ = 1042.2e-6", "t": 1.236, "v": 12.66},
      {"series": "C₀ = 1042.2e-6", "t": 1.275, "v": 12.91},
      {"series": "C₀ = 1042.2e-6", "t": 1.333, "v": 13.29},
      {"series": "C₀ = 1042.2e-6", "t": 1.382, "v": 13.66},
      {"series": "C₀ = 1042.2e-6", "t": 1.43, "v": 13.85},
      {"series": "C₀ = 1042.2e-6", "t": 1.49, "v": 14.15},
      {"series": "C₀ = 1042.2e-6", "t": 1.533, "v": 14.25},
      {"series": "C₀ = 1042.2e-6", "t": 1.6, "v": 14.4},
      {"series": "C₀ = 1042.2e-6", "t": 1.684, "v": 14.55},
      {"series": "C₀ = 1042.2e-6", "t": 1.78, "v": 14.6},
      {"series": "C₀ = 1042.2e-6", "t": 1.945, "v": 14.46},
      {"series": "C₀ = 1042.2e-6", "t": 2.22, "v": 14.19},
      {"series": "C₀ = 1042.2e-6", "t": 2.49, "v": 13.9},
      {"series": "C₀ = 1042.2e-6", "t": 2.76, "v": 13.72},
      {"series": "C₀ = 1042.2e-6", "t": 2.93, "v": 13.62},
      {"series": "C₀ = 1042.2e-6", "t": 3.04, "v": 13.53},
      {"series": "C₀ = 1042.2e-6", "t": 3.33, "v": 13.33},
      {"series": "C₀ = 1042.2e-6", "t": 3.665, "v": 13.12},
      {"series": "C₀ = 1042.2e-6", "t": 3.8, "v": 13.03},
      {"series": "C₀ = 1042.2e-6", "t": 4.0, "v": 12.95},
      {"series": "C₀ = 1042.2e-6", "t": 4.5, "v": 12.95},
      {"series": "C₀ = 1042.2e-6", "t": 5.0, "v": 12.97}
    ],
    "notes": [
      {"label": "x 10", "part": "base", "t": 5, "v": 0},
      {"label": "-4", "part": "exponent", "t": 5, "v": 0}
    ]
  },
  "layer": [
    {
      "data": {"name": "curves"},
      "transform": [{"filter": "datum.series === 'Reference Trajectory'"}],
      "mark": {"type": "line", "strokeWidth": 11, "strokeJoin": "miter", "strokeCap": "butt"},
      "encoding": {
        "x": {
          "field": "t", "type": "quantitative",
          "scale": {"domain": [0, 5], "nice": false, "zero": false},
          "axis": {"title": "Time (s)", "values": [0, 0.5, 1, 1.5, 2, 2.5, 3, 3.5, 4, 4.5, 5], "format": ".4~g", "labelPadding": 84, "titlePadding": 40}
        },
        "y": {
          "field": "v", "type": "quantitative",
          "scale": {"domain": [0, 21], "nice": false, "zero": false},
          "axis": {"title": "Voltage (V)", "values": [0, 3.5, 7, 10.5, 14, 17.5, 21], "format": ".4~g", "labelPadding": 68, "titlePadding": 30}
        },
        "color": {
          "field": "series", "type": "nominal",
          "scale": {
            "domain": ["Reference Trajectory", "C₀ = 84.61e-6", "C₀ = 134.66e-6", "C₀ = 281.3e-6", "C₀ = 513.31e-6", "C₀ = 737.71e-6", "C₀ = 1042.2e-6"],
            "range": ["#0072BD", "#F52A2A", "#F23CF2", "#2B2BE8", "#2EC4C4", "#248F24", "#E39B2E"]
          },
          "legend": {
            "title": null,
            "encode": {"symbols": {"update": {"strokeWidth": {"signal": "datum.value === 'Reference Trajectory' ? 14 : 4"}}}}
          }
        },
        "order": {"field": "t", "type": "quantitative"}
      }
    },
    {
      "data": {"name": "curves"},
      "transform": [{"filter": "datum.series !== 'Reference Trajectory'"}],
      "mark": {"type": "line", "strokeWidth": 3.2, "strokeJoin": "round"},
      "encoding": {
        "x": {
          "field": "t", "type": "quantitative",
          "axis": {"orient": "top", "labels": false, "title": null, "domain": false, "values": [0, 0.5, 1, 1.5, 2, 2.5, 3, 3.5, 4, 4.5, 5]}
        },
        "y": {
          "field": "v", "type": "quantitative",
          "axis": {"orient": "right", "labels": false, "title": null, "domain": false, "values": [0, 3.5, 7, 10.5, 14, 17.5, 21]}
        },
        "color": {"field": "series", "type": "nominal"},
        "order": {"field": "t", "type": "quantitative"}
      }
    },
    {
      "data": {"name": "notes"},
      "transform": [{"filter": "datum.part === 'base'"}],
      "mark": {"type": "text", "align": "right", "baseline": "alphabetic", "fontSize": 64, "color": "#262626", "dx": -57, "dy": 227},
      "encoding": {
        "x": {"field": "t", "type": "quantitative", "axis": null},
        "y": {"field": "v", "type": "quantitative", "axis": null},
        "text": {"field": "label"}
      }
    },
    {
      "data": {"name": "notes"},
      "transform": [{"filter": "datum.part === 'exponent'"}],
      "mark": {"type": "text", "align": "right", "baseline": "alphabetic", "fontSize": 50, "color": "#262626", "dx": 0, "dy": 197},
      "encoding": {
        "x": {"field": "t", "type": "quantitative", "axis": null},
        "y": {"field": "v", "type": "quantitative", "axis": null},
        "text": {"field": "label"}
      }
    }
  ],
  "resolve": {"axis": {"x": "independent", "y": "independent"}}
}
